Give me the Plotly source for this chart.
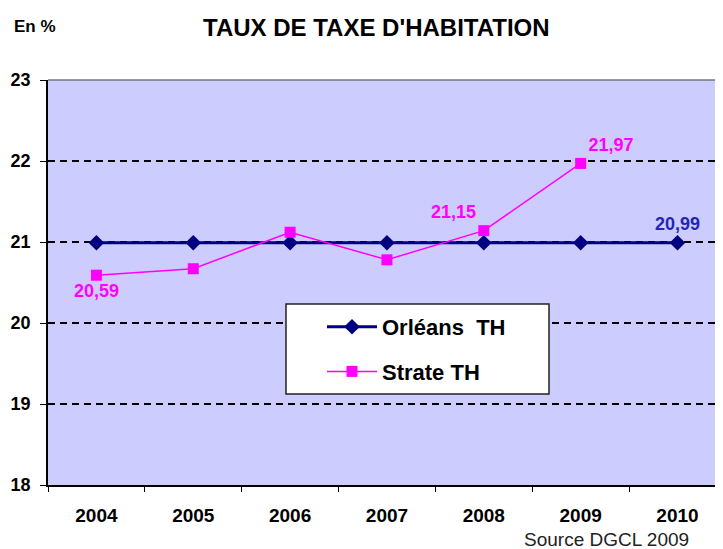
import plotly.graph_objects as go

years = ["2004", "2005", "2006", "2007", "2008", "2009", "2010"]
orleans = [20.99, 20.99, 20.99, 20.99, 20.99, 20.99, 20.99]
strate = [20.59, 20.67, 21.12, 20.78, 21.14, 21.97, None]
orleans_labels = ["", "", "", "", "", "", "20,99"]
strate_labels = ["20,59", "", "", "", "21,15", "21,97", ""]
y_ticks = [18, 19, 20, 21, 22, 23]

FONT = "Liberation Sans, Arial, sans-serif"
NAVY = "#000080"
MAGENTA = "#FF00FF"

# page body has an 8px margin: figure is sized/placed so the plot lands where the reference has it
OFF = 8
PL, PT, PR, PB = 48, 80, 723, 485  # plot box in window pixels
W, H = 723 - OFF, 549 - OFF

def px(X):
    return (X - PL) / (PR - PL)

def py(Y):
    return (PB - Y) / (PB - PT)

fig = go.Figure()
fig.add_trace(go.Scatter(
    x=years, y=orleans, name="Orléans  TH", mode="lines+markers+text",
    legendgroup="a",
    line=dict(color=NAVY, width=3),
    marker=dict(symbol="diamond", size=12, color=NAVY),
    text=orleans_labels, textposition="top center",
    textfont=dict(family=FONT, size=18, color="#2424B8", weight="bold"),
    cliponaxis=False,
))
fig.add_trace(go.Scatter(
    x=years, y=strate, name="Strate TH", mode="lines+markers+text",
    legendgroup="b",
    line=dict(color=MAGENTA, width=1.5),
    marker=dict(symbol="square", size=11, color=MAGENTA),
    text=strate_labels,
    textposition=["bottom center", "top center", "top center", "top center",
                  "top left", "top right", "top center"],
    textfont=dict(family=FONT, size=18, color=MAGENTA, weight="bold"),
    cliponaxis=False,
))

fig.update_layout(
    width=W, height=H,
    margin=dict(l=PL - OFF, r=0, t=PT - OFF, b=(549 - PB)),
    paper_bgcolor="white",
    plot_bgcolor="#CCCCFF",
    font=dict(family=FONT, color="black"),
    showlegend=True,
    legend=dict(
        x=px(322), y=py(306), xanchor="left", yanchor="top",
        bgcolor="rgba(0,0,0,0)", borderwidth=0,
        font=dict(family=FONT, size=22, color="black", weight="bold"),
        itemwidth=50, traceorder="grouped", tracegroupgap=13,
    ),
    xaxis=dict(
        type="category", range=[-0.5, 6.47],
        showline=True, linecolor="black", linewidth=1.5,
        ticks="outside", tickson="boundaries", ticklen=5, tickcolor="black",
        ticklabelstandoff=12, automargin=False,
        tickfont=dict(family=FONT, size=19, color="black", weight="bold"),
        showgrid=False,
    ),
    yaxis=dict(
        range=[18, 23], tickvals=y_ticks,
        showline=True, linecolor="black", linewidth=1.5,
        ticks="outside", ticklen=6, tickcolor="black",
        ticklabelstandoff=6, automargin=False,
        tickfont=dict(family=FONT, size=18, color="black", weight="bold"),
        showgrid=True, gridcolor="black", gridwidth=1.5, griddash="7px,5px",
        zeroline=False,
    ),
    shapes=[
        dict(type="line", xref="paper", yref="paper", x0=0, x1=1, y0=1, y1=1,
             line=dict(color="#777777", width=1.5), layer="above"),
        dict(type="rect", xref="paper", yref="paper",
             x0=px(286), x1=px(549), y0=py(394), y1=py(304),
             fillcolor="white", line=dict(color="#222222", width=1.5), layer="above"),
    ],
    annotations=[
        dict(text="TAUX DE TAXE D'HABITATION", xref="paper", yref="paper",
             x=px(376), y=py(27), xanchor="center", yanchor="middle",
             showarrow=False, font=dict(family=FONT, size=24, color="black", weight="bold")),
        dict(text="En %", xref="paper", yref="paper",
             x=px(12), y=py(26), xanchor="left", yanchor="middle",
             showarrow=False, font=dict(family=FONT, size=17, color="black", weight="bold")),
        dict(text="Source DGCL 2009", xref="paper", yref="paper",
             x=px(691), y=py(539), xanchor="right", yanchor="middle",
             showarrow=False, font=dict(family=FONT, size=19, color="#222222")),
    ],
)

fig.write_html("out.html")
